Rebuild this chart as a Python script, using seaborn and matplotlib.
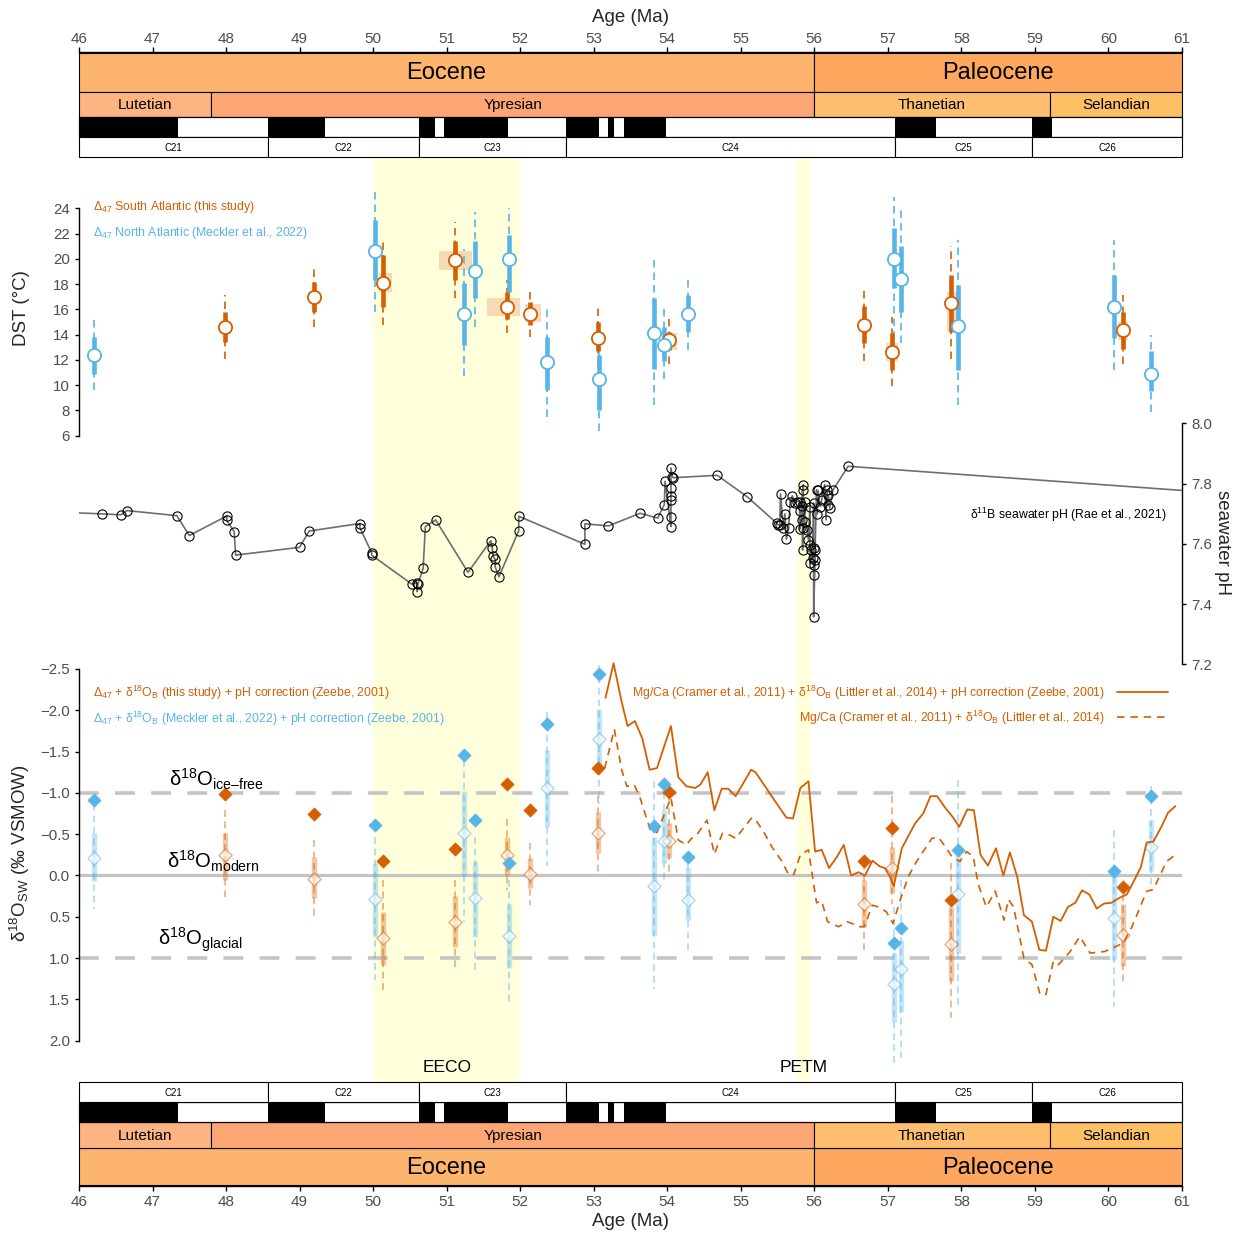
import matplotlib
matplotlib.use("Agg")
import matplotlib.pyplot as plt
from matplotlib.patches import Rectangle
from matplotlib.lines import Line2D
from matplotlib.colors import to_rgba
import matplotlib.transforms as mtransforms
import seaborn as sns

W, H = 1242, 1236
X_MIN, X_MAX = 46, 61
LEFT, RIGHT = 79, 1182
orange = "#D55E00"
blue = "#56B4E9"

# ---- geological timescale ----
epoch_names = ["Eocene", "Paleocene"]
epoch_start = [33.9, 56.0]
epoch_end = [56.0, 66.0]
epoch_colors = ["#FDB46C", "#FDA75F"]
stage_names = ["Lutetian", "Ypresian", "Thanetian", "Selandian"]
stage_start = [41.2, 47.8, 56.0, 59.2]
stage_end = [47.8, 56.0, 59.2, 61.6]
stage_colors = ["#FDB482", "#FCA773", "#FDBF6F", "#FEBF65"]
chron_names = ["C21", "C22", "C23", "C24", "C25", "C26"]
chron_start = [45.724, 48.566, 50.628, 52.620, 57.101, 58.959]
chron_end = [48.566, 50.628, 52.620, 57.101, 58.959, 62.221]
normal_start = [45.724, 48.566, 50.628, 50.961, 52.620, 53.199, 53.416, 57.101, 58.959]
normal_end = [47.349, 49.344, 50.835, 51.833, 53.074, 53.274, 53.983, 57.656, 59.237]

event_names = ["EECO", "PETM"]
event_start = [50.0, 55.76]
event_end = [52.0, 55.95]

# ---- clumped isotope temperatures (DST) ----
sa_age = [47.99, 49.20, 50.14, 51.11, 51.82, 52.13, 53.06, 54.03, 56.68, 57.06, 57.86, 60.20]
sa_dst = [14.6, 17.0, 18.1, 19.9, 16.2, 15.6, 13.7, 13.6, 14.8, 12.6, 16.5, 14.4]
sa_lo68 = [13.4, 15.8, 16.2, 18.3, 15.2, 14.8, 12.7, 12.8, 13.3, 11.2, 14.2, 12.9]
sa_hi68 = [15.8, 18.2, 20.3, 21.4, 17.4, 16.6, 15.0, 14.2, 16.3, 14.1, 18.7, 15.8]
sa_lo95 = [12.1, 14.6, 14.8, 16.9, 14.1, 13.8, 11.5, 11.7, 11.9, 9.9, 12.1, 11.7]
sa_hi95 = [17.1, 19.4, 21.6, 22.9, 18.3, 17.5, 16.1, 15.4, 17.7, 15.4, 21.0, 17.1]
sa_box_age_lo = [None, None, 50.08, 50.89, 51.55, 52.07, 53.03, 53.98, None, 56.98, 57.80, 60.13]
sa_box_age_hi = [None, None, 50.25, 51.35, 52.00, 52.28, 53.10, 54.13, None, 57.14, 57.94, 60.27]
sa_box_lo = [None, None, 17.4, 19.1, 15.5, 15.0, 12.7, 12.8, None, 11.9, 14.2, 13.6]
sa_box_hi = [None, None, 18.9, 20.6, 16.9, 16.4, 14.4, 14.1, None, 13.3, 17.4, 15.0]

na_age = [46.20, 50.02, 51.23, 51.38, 51.85, 52.37, 53.07, 53.82, 53.95, 54.28, 57.08, 57.18, 57.96, 60.07, 60.58]
na_dst = [12.4, 20.6, 15.6, 19.0, 20.0, 11.8, 10.5, 14.1, 13.2, 15.6, 20.0, 18.4, 14.7, 16.2, 10.9]
na_lo68 = [10.9, 18.3, 13.2, 16.9, 17.4, 9.6, 8.0, 11.3, 11.9, 14.2, 17.7, 15.8, 11.2, 13.7, 9.5]
na_hi68 = [13.8, 23.1, 18.1, 21.4, 21.9, 13.8, 12.4, 16.9, 14.6, 17.1, 22.4, 21.0, 17.9, 18.7, 12.7]
na_lo95 = [9.6, 15.8, 10.7, 14.6, 16.0, 7.5, 6.4, 8.4, 10.5, 12.8, 12.7, 13.3, 8.4, 11.2, 7.9]
na_hi95 = [15.2, 25.6, 20.8, 23.7, 24.0, 16.2, 15.2, 20.2, 16.0, 18.5, 24.9, 23.9, 21.5, 21.5, 14.0]

# ---- seawater pH (boron isotopes) ----
ph_age = [45.80, 46.31, 46.57, 46.65, 47.33, 47.50, 48.01, 48.01, 48.11, 48.13,
          49.00, 49.13, 49.82, 49.82, 49.98, 49.98, 50.53, 50.59, 50.60, 50.61,
          50.68, 50.71, 50.85, 51.29, 51.60, 51.62, 51.63, 51.66, 51.66, 51.71,
          51.98, 51.98, 52.88, 52.88, 53.20, 53.63, 53.87, 53.96, 53.97, 54.05,
          54.05, 54.05, 54.05, 54.05, 54.05, 54.07, 54.08, 54.68, 55.09,
          55.49, 55.51, 55.53, 55.54, 55.58, 55.60, 55.62, 55.65, 55.67, 55.70,
          55.74, 55.77, 55.80, 55.80, 55.80, 55.83, 55.83, 55.84, 55.84, 55.85,
          55.85, 55.87, 55.87, 55.90, 55.92, 55.94, 55.94, 55.94, 55.96, 55.98,
          55.99, 55.99, 55.99, 55.99, 55.99, 56.01, 56.01, 56.03, 56.04, 56.05,
          56.08, 56.10, 56.14, 56.16, 56.17, 56.19, 56.19, 56.21, 56.25, 56.46, 61.50]
ph_value = [7.705, 7.700, 7.697, 7.711, 7.694, 7.628, 7.693, 7.678, 7.641, 7.563,
            7.589, 7.643, 7.668, 7.654, 7.571, 7.563, 7.466, 7.472, 7.442, 7.468,
            7.519, 7.658, 7.680, 7.506, 7.611, 7.586, 7.560, 7.549, 7.524, 7.491,
            7.644, 7.692, 7.599, 7.667, 7.660, 7.702, 7.686, 7.731, 7.808, 7.658,
            7.690, 7.747, 7.758, 7.786, 7.852, 7.824, 7.820, 7.828, 7.756,
            7.669, 7.663, 7.663, 7.766, 7.652, 7.700, 7.616, 7.652, 7.738, 7.760,
            7.736, 7.741, 7.741, 7.708, 7.649, 7.727, 7.680, 7.780, 7.580, 7.797,
            7.652, 7.738, 7.674, 7.647, 7.613, 7.724, 7.597, 7.536, 7.580, 7.552,
            7.736, 7.586, 7.530, 7.497, 7.358, 7.547, 7.580, 7.780, 7.700, 7.778,
            7.724, 7.747, 7.797, 7.680, 7.780, 7.730, 7.763, 7.719, 7.778, 7.858, 7.769]

# ---- seawater d18O ----
sa_d18o_corr = [-0.99, -0.75, -0.18, -0.32, -1.11, -0.79, -1.30, -1.01, -0.17, -0.58, 0.30, 0.14]
sa_d18o_raw = [-0.25, 0.04, 0.76, 0.56, -0.25, -0.02, -0.51, -0.42, 0.34, -0.09, 0.83, 0.72]
sa_d18o_lo68 = [-0.51, -0.23, 0.44, 0.25, -0.47, -0.21, -0.77, -0.63, 0.05, -0.35, 0.38, 0.34]
sa_d18o_hi68 = [0.05, 0.27, 1.08, 0.86, -0.01, 0.15, -0.27, -0.21, 0.62, 0.21, 1.28, 1.10]
sa_d18o_lo95 = [-0.79, -0.43, 0.05, 0.05, -0.69, -0.39, -0.96, -0.96, -0.15, -0.96, -0.15, 0.09]
sa_d18o_hi95 = [0.27, 0.52, 1.44, 1.16, 0.17, 0.36, -0.03, -0.03, 0.94, 0.34, 1.73, 1.28]

na_d18o_corr = [-0.92, -0.61, -1.46, -0.67, -0.15, -1.84, -2.44, -0.60, -1.11, -0.23, 0.82, 0.63, -0.31, -0.06, -0.96]
na_d18o_raw = [-0.21, 0.29, -0.51, 0.27, 0.73, -1.06, -1.65, 0.13, -0.42, 0.30, 1.31, 1.13, 0.22, 0.52, -0.35]
na_d18o_lo68 = [-0.51, -0.15, -1.02, -0.17, 0.34, -1.52, -2.02, -0.47, -0.79, -0.09, 0.94, 0.78, -0.31, 0.01, -0.67]
na_d18o_hi68 = [0.07, 0.74, 0.01, 0.74, 1.12, -0.59, -1.24, 0.72, -0.15, 0.54, 1.77, 1.65, 0.94, 1.02, -0.05]
na_d18o_lo95 = [-0.86, -0.47, -1.40, -0.47, 0.05, -1.98, -2.55, -1.14, -1.14, -0.15, 0.38, 0.05, -1.16, -0.55, -1.08]
na_d18o_hi95 = [0.40, 1.26, 0.56, 1.20, 1.54, -0.11, -0.86, 1.38, 0.09, 0.90, 2.29, 2.21, 1.61, 1.59, 0.17]

mg_age = [53.16, 53.27, 53.38, 53.46, 53.56, 53.66, 53.76, 53.86, 54.05, 54.15,
          54.26, 54.38, 54.45, 54.55, 54.64, 54.74, 54.83, 54.93, 55.14, 55.20,
          55.33, 55.42, 55.62, 55.71, 55.81, 55.92, 56.01, 56.10, 56.20, 56.31,
          56.40, 56.50, 56.60, 56.69, 56.79, 56.89, 56.96, 57.02, 57.08, 57.19,
          57.37, 57.48, 57.58, 57.67, 57.78, 57.88, 57.97, 58.08, 58.17, 58.26,
          58.36, 58.47, 58.57, 58.66, 58.76, 58.85, 58.96, 59.06, 59.15, 59.25,
          59.35, 59.45, 59.55, 59.64, 59.74, 59.84, 59.94, 60.04, 60.15, 60.25,
          60.35, 60.44, 60.52, 60.61, 60.72, 60.81, 60.91]
mg_d18o_ph = [-2.15, -2.57, -2.10, -1.81, -1.87, -1.66, -1.28, -1.30, -1.81, -1.19,
              -1.08, -1.06, -1.10, -1.25, -0.79, -1.05, -1.05, -0.96, -1.28, -1.25,
              -1.08, -0.96, -0.70, -0.69, -1.06, -1.14, -0.29, -0.31, -0.09, -0.23,
              -0.37, 0.00, -0.04, 0.00, -0.18, -0.11, -0.09, 0.00, 0.13, -0.33,
              -0.63, -0.75, -0.96, -0.96, -0.82, -0.71, -0.59, -0.80, -0.79, -0.25,
              -0.12, -0.33, 0.00, -0.28, 0.02, 0.48, 0.56, 0.90, 0.91, 0.50,
              0.55, 0.38, 0.33, 0.18, 0.23, 0.40, 0.34, 0.33, 0.27, 0.23,
              0.06, -0.10, -0.40, -0.41, -0.59, -0.76, -0.84]

mg_raw_age = [53.15, 53.28, 53.38, 53.45, 53.55, 53.63, 53.77, 53.86, 54.05, 54.15,
              54.26, 54.33, 54.40, 54.54, 54.64, 54.75, 54.85, 54.93, 55.15, 55.22,
              55.31, 55.42, 55.56, 55.65, 55.72, 55.81, 55.92, 56.03, 56.10, 56.18,
              56.33, 56.45, 56.62, 56.68, 56.79, 56.87, 56.98, 57.07, 57.17, 57.28,
              57.39, 57.51, 57.60, 57.69, 57.78, 57.87, 57.98, 58.07, 58.16, 58.23,
              58.34, 58.46, 58.58, 58.64, 58.71, 58.85, 58.96, 59.07, 59.15, 59.25,
              59.32, 59.48, 59.61, 59.75, 59.95, 60.20, 60.32, 60.52, 60.61, 60.79, 60.91]
mg_d18o_raw = [-1.30, -1.77, -1.28, -1.08, -1.10, -0.94, -0.55, -0.52, -0.94, -0.43,
               -0.37, -0.45, -0.49, -0.67, -0.26, -0.51, -0.49, -0.45, -0.70, -0.65,
               -0.53, -0.35, -0.17, -0.01, -0.01, -0.25, -0.31, 0.33, 0.31, 0.56,
               0.62, 0.56, 0.62, 0.62, 0.36, 0.38, 0.44, 0.58, 0.29, 0.01,
               -0.17, -0.33, -0.45, -0.46, -0.35, -0.23, -0.17, -0.29, -0.23, 0.11,
               0.38, 0.19, 0.54, 0.29, 0.38, 1.00, 1.08, 1.44, 1.44, 1.04,
               1.08, 0.92, 0.74, 0.94, 0.92, 0.82, 0.62, 0.19, 0.17, -0.17, -0.25]

ref_levels = [-1.0, 0.0, 1.0]
ref_labels = ["$_{\\mathrm{ice\u2013free}}$", r"$_{\mathrm{modern}}$", r"$_{\mathrm{glacial}}$"]

# ---- style ----
sns.set_theme(style="ticks")
plt.rcParams["font.family"] = ["Liberation Sans", "DejaVu Sans"]
plt.rcParams["mathtext.fontset"] = "custom"
plt.rcParams["mathtext.rm"] = "Liberation Sans"
plt.rcParams["mathtext.it"] = "Liberation Sans:italic"
plt.rcParams["mathtext.bf"] = "Liberation Sans:bold"
TICK_GREY = "#4D4D4D"

fig = plt.figure(figsize=(W / 100, H / 100), dpi=100)


def fx(px):
    return px / W


def fy(py):
    return 1 - py / H


def add_ax(top, bottom):
    ax = fig.add_axes([fx(LEFT), fy(bottom), (RIGHT - LEFT) / W, (bottom - top) / H])
    ax.set_facecolor("none")
    ax.set_xlim(X_MIN, X_MAX)
    for s in ax.spines.values():
        s.set_visible(False)
    ax.set_xticks([])
    ax.set_yticks([])
    ax.grid(False)
    return ax


def box(ax, start, end, row, face, label=None, size=10, edge="black"):
    x0, x1 = max(start, X_MIN), min(end, X_MAX)
    top, bot = row
    ax.add_patch(Rectangle((x0, top), x1 - x0, bot - top, facecolor=face,
                           edgecolor=edge, lw=0.8, clip_on=False))
    if label:
        ax.text((x0 + x1) / 2, (top + bot) / 2 + 0.8, label, ha="center", va="center",
                fontsize=size, color="black")


def draw_timescale(ax, rows):
    for n, s, e, c in zip(epoch_names, epoch_start, epoch_end, epoch_colors):
        box(ax, s, e, rows["epoch"], c, n, 17)
    for n, s, e, c in zip(stage_names, stage_start, stage_end, stage_colors):
        box(ax, s, e, rows["stage"], c, n, 11)
    box(ax, X_MIN, X_MAX, rows["polarity"], "white")
    for s, e in zip(normal_start, normal_end):
        box(ax, s, e, rows["polarity"], "black", edge="none")
    box(ax, X_MIN, X_MAX, rows["polarity"], "none")
    for n, s, e in zip(chron_names, chron_start, chron_end):
        box(ax, s, e, rows["chron"], "white", n, 7)
    ax.set_xticks(range(46, 62))
    ax.tick_params(axis="x", length=3.5, width=1, color="black",
                   labelcolor=TICK_GREY, labelsize=11)


# top timescale
ax_top = add_ax(52, 157)
ax_top.set_ylim(157, 52)
draw_timescale(ax_top, {"epoch": (53, 92), "stage": (92, 116.5),
                        "polarity": (116.5, 137), "chron": (137, 157)})
ax_top.xaxis.tick_top()
ax_top.tick_params(axis="x", pad=0.5)
ax_top.spines["top"].set_visible(True)
ax_top.spines["top"].set_linewidth(1)
ax_top.spines["top"].set_color("black")

# bottom timescale
ax_bot = add_ax(1082, 1186)
ax_bot.set_ylim(1186, 1082)
draw_timescale(ax_bot, {"chron": (1082.5, 1102), "polarity": (1102, 1122.5),
                        "stage": (1122.5, 1148), "epoch": (1148, 1185.5)})
ax_bot.tick_params(axis="x", pad=3)
ax_bot.spines["bottom"].set_visible(True)
ax_bot.spines["bottom"].set_linewidth(1)
ax_bot.spines["bottom"].set_color("black")

fig.text(fx(630), fy(17), "Age (Ma)", ha="center", va="center", fontsize=13.5)
fig.text(fx(630), fy(1222), "Age (Ma)", ha="center", va="center", fontsize=13.5)

# event bands
ax_bg = add_ax(157, 1082)
ax_bg.set_ylim(0, 1)
blend = mtransforms.blended_transform_factory(ax_bg.transData, ax_bg.transAxes)
for n, s, e in zip(event_names, event_start, event_end):
    ax_bg.axvspan(s, e, color="#FFFFDC", lw=0, zorder=0)
    ax_bg.text((s + e) / 2, 0.0155, n, transform=blend, ha="center", va="center",
               fontsize=12.5, color="black")


def style_y(ax, side, lo, hi, ticks, labels):
    ax.spines[side].set_visible(True)
    ax.spines[side].set_bounds(lo, hi)
    ax.spines[side].set_linewidth(1)
    ax.spines[side].set_color("black")
    ax.set_yticks(ticks)
    ax.set_yticklabels(labels)
    if side == "right":
        ax.yaxis.tick_right()
    ax.tick_params(axis="y", length=3, width=1, color="black",
                   labelcolor=TICK_GREY, labelsize=10.8)


# ---- DST panel ----
ax_t = add_ax(160, 445)
ax_t.set_ylim(5.264, 27.82)
style_y(ax_t, "left", 6, 24, list(range(6, 25, 2)), [str(v) for v in range(6, 25, 2)])
for a0, a1, b0, b1 in zip(sa_box_age_lo, sa_box_age_hi, sa_box_lo, sa_box_hi):
    if a0 is not None:
        ax_t.add_patch(Rectangle((a0, b0), a1 - a0, b1 - b0, facecolor="#F0C79E",
                                 alpha=0.65, edgecolor="none", zorder=2))


def dst_points(ax, age, val, lo68, hi68, lo95, hi95, color):
    ax.vlines(age, lo95, hi95, colors=color, lw=1.2, linestyles=(0, (4.5, 3)), zorder=3)
    ax.vlines(age, lo68, hi68, colors=color, lw=3.3, zorder=4)
    sns.scatterplot(x=age, y=val, ax=ax, s=90, color="white", edgecolor=color,
                    linewidth=1.3, zorder=5, legend=False)


dst_points(ax_t, sa_age, sa_dst, sa_lo68, sa_hi68, sa_lo95, sa_hi95, orange)
dst_points(ax_t, na_age, na_dst, na_lo68, na_hi68, na_lo95, na_hi95, blue)
ax_t.set_xlim(X_MIN, X_MAX)
ax_t.set_xticks([])
ax_t.set_xlabel("")
ax_t.set_ylabel("")
fig.text(fx(93), fy(207), r"Δ$_{47}$ South Atlantic (this study)", color=orange,
         fontsize=8.8, ha="left", va="center")
fig.text(fx(93), fy(233), r"Δ$_{47}$ North Atlantic (Meckler et al., 2022)", color=blue,
         fontsize=8.8, ha="left", va="center")
fig.text(fx(21), fy(308), "DST (°C)", rotation=90, ha="center", va="center", fontsize=13.5)

# ---- pH panel ----
ax_p = add_ax(410, 680)
ax_p.set_ylim(7.1485, 8.0448)
ph_ticks = [7.2, 7.4, 7.6, 7.8, 8.0]
style_y(ax_p, "right", 7.2, 8.0, ph_ticks, [f"{v:.1f}" for v in ph_ticks])
sns.lineplot(x=ph_age, y=ph_value, ax=ax_p, sort=False, estimator=None,
             color="#6E6E6E", lw=1.2, zorder=3)
ax_p.plot(ph_age, ph_value, "o", mfc="none", mec="black", ms=6.6, mew=0.8, zorder=4)
ax_p.set_xlim(X_MIN, X_MAX)
ax_p.set_xticks([])
ax_p.set_xlabel("")
ax_p.set_ylabel("")
fig.text(fx(1167), fy(515), r"δ$^{11}$B seawater pH (Rae et al., 2021)", color="black",
         fontsize=8.8, ha="right", va="center")
fig.text(fx(1223), fy(543), "seawater pH", rotation=270, ha="center", va="center",
         fontsize=13.5)

# ---- d18O panel ----
ax_o = add_ax(650, 1082)
ax_o.set_ylim(2.5, -2.730)
o_ticks = [-2.5, -2.0, -1.5, -1.0, -0.5, 0.0, 0.5, 1.0, 1.5, 2.0]
style_y(ax_o, "left", -2.5, 2.0, o_ticks, [f"{v:.1f}".replace("-", "\u2212") for v in o_ticks])
for lvl in ref_levels:
    if lvl == 0:
        ax_o.axhline(lvl, color="#C4C4C4", lw=2.3, zorder=1)
    else:
        ax_o.axhline(lvl, color="#C4C4C4", lw=2.6, ls=(0, (5.5, 4.5)), zorder=1)


def d18o_points(ax, age, corr, raw, lo68, hi68, lo95, hi95, color):
    ax.vlines(age, lo95, hi95, colors=to_rgba(color, 0.55), lw=1.1,
              linestyles=(0, (4.5, 3)), zorder=3)
    ax.vlines(age, lo68, hi68, colors=to_rgba(color, 0.35), lw=3.8, zorder=3)
    sns.scatterplot(x=age, y=raw, ax=ax, marker="D", s=44, color=(1, 1, 1, 0.6),
                    edgecolor=to_rgba(color, 0.5), linewidth=1.0, zorder=4, legend=False)
    sns.scatterplot(x=age, y=corr, ax=ax, marker="D", s=44, color=color,
                    edgecolor=color, linewidth=0.6, zorder=6, legend=False)


d18o_points(ax_o, sa_age, sa_d18o_corr, sa_d18o_raw, sa_d18o_lo68, sa_d18o_hi68,
            sa_d18o_lo95, sa_d18o_hi95, orange)
d18o_points(ax_o, na_age, na_d18o_corr, na_d18o_raw, na_d18o_lo68, na_d18o_hi68,
            na_d18o_lo95, na_d18o_hi95, blue)
sns.lineplot(x=mg_age, y=mg_d18o_ph, ax=ax_o, sort=False, estimator=None,
             color=orange, lw=1.3, zorder=5)
sns.lineplot(x=mg_raw_age, y=mg_d18o_raw, ax=ax_o, sort=False, estimator=None,
             color=orange, lw=1.2, dashes=False, zorder=5)
ax_o.lines[-1].set_linestyle((0, (4.5, 3.5)))
ax_o.set_xlim(X_MIN, X_MAX)
ax_o.set_xticks([])
ax_o.set_xlabel("")
ax_o.set_ylabel("")

for x_age, yv, sub in zip([47.22, 47.20, 47.07], [-1.16, -0.17, 0.78], ref_labels):
    ax_o.text(x_age, yv, "δ$^{18}$O" + sub, ha="left", va="center", fontsize=14.5,
              color="black", zorder=7)

fig.text(fx(93), fy(693), r"Δ$_{47}$ + δ$^{18}$O$_\mathrm{B}$ (this study) + pH correction (Zeebe, 2001)",
         color=orange, fontsize=8.8, ha="left", va="center")
fig.text(fx(93), fy(719), r"Δ$_{47}$ + δ$^{18}$O$_\mathrm{B}$ (Meckler et al., 2022) + pH correction (Zeebe, 2001)",
         color=blue, fontsize=8.8, ha="left", va="center")
fig.text(fx(1105), fy(693), r"Mg/Ca (Cramer et al., 2011) + δ$^{18}$O$_\mathrm{B}$ (Littler et al., 2014) + pH correction (Zeebe, 2001)",
         color=orange, fontsize=8.8, ha="right", va="center")
fig.text(fx(1105), fy(718), r"Mg/Ca (Cramer et al., 2011) + δ$^{18}$O$_\mathrm{B}$ (Littler et al., 2014)",
         color=orange, fontsize=8.8, ha="right", va="center")
fig.add_artist(Line2D([fx(1117), fx(1168)], [fy(692), fy(692)], color=orange, lw=1.3,
                      transform=fig.transFigure))
fig.add_artist(Line2D([fx(1117), fx(1168)], [fy(717), fy(717)], color=orange, lw=1.2,
                      ls=(0, (4.5, 3.5)), transform=fig.transFigure))
fig.text(fx(20), fy(853), r"δ$^{18}$O$_\mathrm{SW}$ (‰ VSMOW)", rotation=90,
         ha="center", va="center", fontsize=13.5)

ax_bg.set_zorder(0)
ax_t.set_zorder(2)
ax_p.set_zorder(1)
ax_o.set_zorder(3)
ax_top.set_zorder(4)
ax_bot.set_zorder(4)

fig.savefig("out.png", dpi=100)
